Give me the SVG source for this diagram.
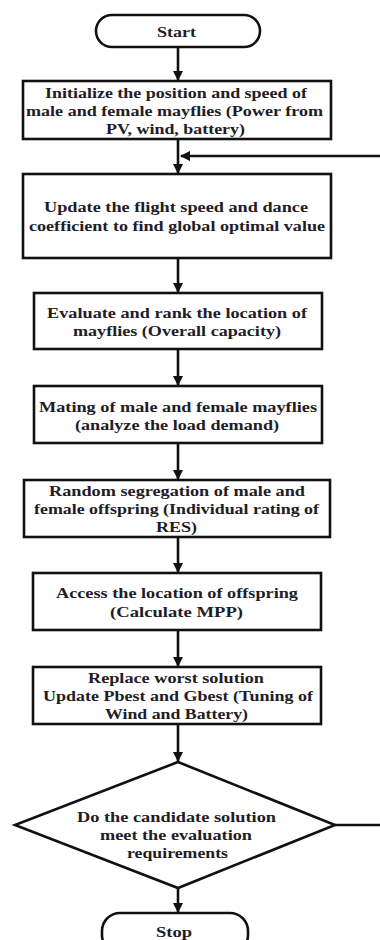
<svg xmlns="http://www.w3.org/2000/svg" width="380" height="940" viewBox="0 0 380 940">
<defs>
<marker id="ah" viewBox="0 0 10 10" refX="9" refY="5" markerWidth="4" markerHeight="4" orient="auto" markerUnits="strokeWidth">
<path d="M0,0 L10,5 L0,10 z" fill="#111"/>
</marker>
<style>
.s{fill:#fff;stroke:#111;stroke-width:2.6}
.t{font-family:"Liberation Serif","Times New Roman",serif;font-weight:bold;font-size:14.5px;fill:#231c26}
.c{fill:none;stroke:#111;stroke-width:2.6}
</style>
</defs>
<rect width="380" height="940" fill="#fff"/>
<g id="connectors">
<line class="c" x1="178" y1="47" x2="178" y2="80" marker-end="url(#ah)"/>
<line class="c" x1="178" y1="139" x2="178" y2="173" marker-end="url(#ah)"/>
<line class="c" x1="380" y1="156" x2="181" y2="156" marker-end="url(#ah)"/>
<line class="c" x1="178" y1="258" x2="178" y2="292" marker-end="url(#ah)"/>
<line class="c" x1="178" y1="349" x2="178" y2="385" marker-end="url(#ah)"/>
<line class="c" x1="178" y1="443" x2="178" y2="479" marker-end="url(#ah)"/>
<line class="c" x1="178" y1="537" x2="178" y2="572" marker-end="url(#ah)"/>
<line class="c" x1="178" y1="630" x2="178" y2="666" marker-end="url(#ah)"/>
<line class="c" x1="178" y1="724" x2="178" y2="761" marker-end="url(#ah)"/>
<line class="c" x1="178" y1="888" x2="178" y2="912" marker-end="url(#ah)"/>
<line class="c" x1="335" y1="825" x2="380" y2="825"/>
</g>
<g id="start">
<rect class="s" x="96" y="15" width="164" height="32" rx="16"/>
<text class="t" x="157" y="37" textLength="39" lengthAdjust="spacingAndGlyphs">Start</text>
</g>
<g id="init">
<rect class="s" x="23" y="81" width="308" height="58"/>
<text class="t" x="45" y="98" textLength="262" lengthAdjust="spacingAndGlyphs">Initialize the position and speed of</text>
<text class="t" x="26" y="116" textLength="297" lengthAdjust="spacingAndGlyphs">male and female mayflies (Power from</text>
<text class="t" x="106" y="134" textLength="139" lengthAdjust="spacingAndGlyphs">PV, wind, battery)</text>
</g>
<g id="update">
<rect class="s" x="23" y="174" width="308" height="84"/>
<text class="t" x="44" y="212" textLength="264" lengthAdjust="spacingAndGlyphs">Update the flight speed and dance</text>
<text class="t" x="29" y="231" textLength="296" lengthAdjust="spacingAndGlyphs">coefficient to find global optimal value</text>
</g>
<g id="evaluate">
<rect class="s" x="34" y="293" width="288" height="56"/>
<text class="t" x="47" y="318" textLength="260" lengthAdjust="spacingAndGlyphs">Evaluate and rank the location of</text>
<text class="t" x="73" y="336" textLength="208" lengthAdjust="spacingAndGlyphs">mayflies (Overall capacity)</text>
</g>
<g id="mating">
<rect class="s" x="34" y="386" width="288" height="57"/>
<text class="t" x="39" y="412" textLength="278" lengthAdjust="spacingAndGlyphs">Mating of male and female mayflies</text>
<text class="t" x="75" y="430" textLength="204" lengthAdjust="spacingAndGlyphs">(analyze the load demand)</text>
</g>
<g id="random">
<rect class="s" x="24" y="480" width="306" height="57"/>
<text class="t" x="49" y="496" textLength="256" lengthAdjust="spacingAndGlyphs">Random segregation of male and</text>
<text class="t" x="34" y="514" textLength="285" lengthAdjust="spacingAndGlyphs">female offspring (Individual rating of</text>
<text class="t" x="156" y="532" textLength="41" lengthAdjust="spacingAndGlyphs">RES)</text>
</g>
<g id="access">
<rect class="s" x="33" y="573" width="288" height="57"/>
<text class="t" x="56" y="598" textLength="242" lengthAdjust="spacingAndGlyphs">Access the location of offspring</text>
<text class="t" x="110" y="617" textLength="133" lengthAdjust="spacingAndGlyphs">(Calculate MPP)</text>
</g>
<g id="replace">
<rect class="s" x="33" y="667" width="288" height="57"/>
<text class="t" x="88" y="683" textLength="176" lengthAdjust="spacingAndGlyphs">Replace worst solution</text>
<text class="t" x="43" y="701" textLength="270" lengthAdjust="spacingAndGlyphs">Update Pbest and Gbest (Tuning of</text>
<text class="t" x="105" y="719" textLength="143" lengthAdjust="spacingAndGlyphs">Wind and Battery)</text>
</g>
<g id="decision">
<polygon class="s" points="178,762 335,825 178,888 15,825"/>
<text class="t" x="77" y="822" textLength="199" lengthAdjust="spacingAndGlyphs">Do the candidate solution</text>
<text class="t" x="100" y="840" textLength="152" lengthAdjust="spacingAndGlyphs">meet the evaluation</text>
<text class="t" x="127" y="858" textLength="101" lengthAdjust="spacingAndGlyphs">requirements</text>
</g>
<g id="stop">
<rect class="s" x="102" y="913" width="146" height="40" rx="18"/>
<text class="t" x="156" y="937" textLength="36" lengthAdjust="spacingAndGlyphs">Stop</text>
</g>
</svg>
